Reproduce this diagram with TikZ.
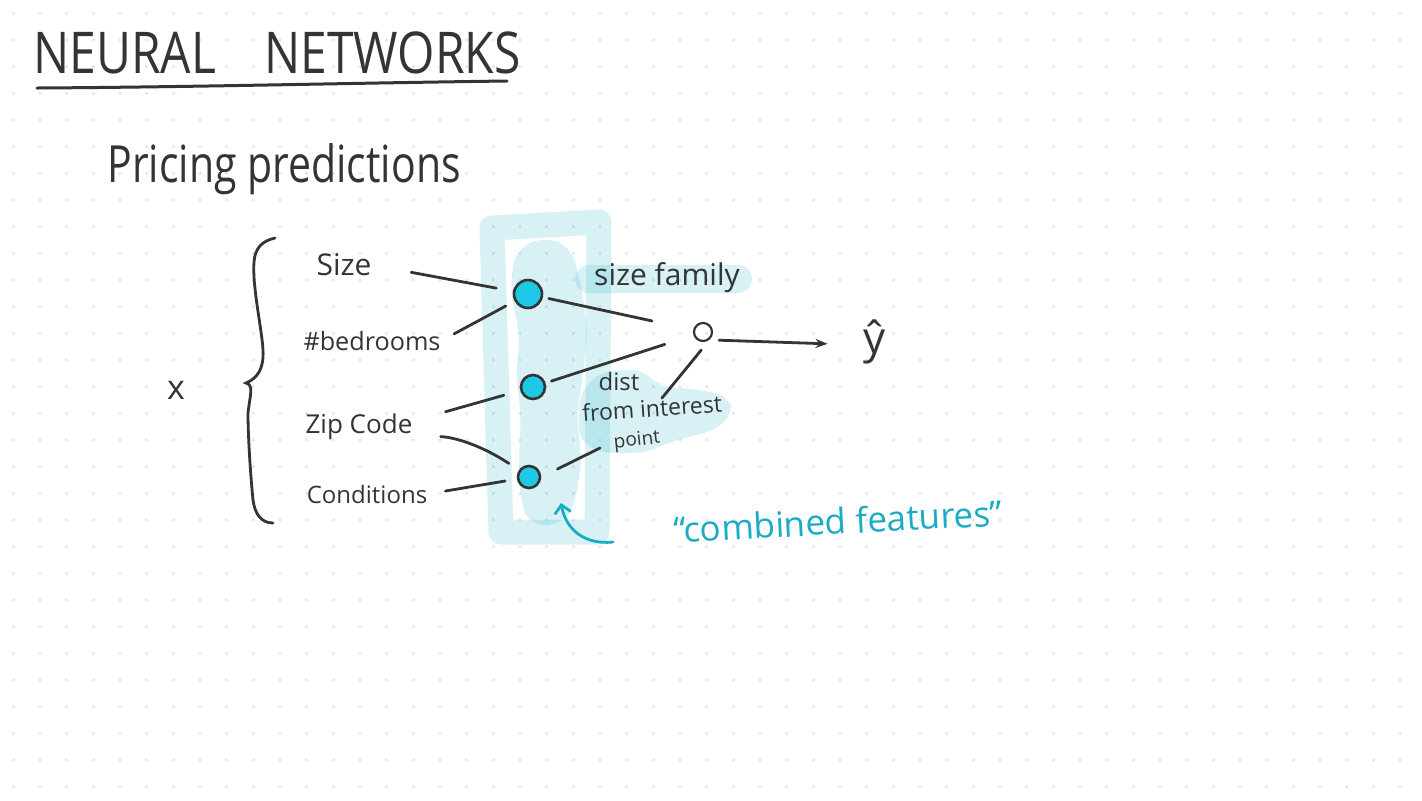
\documentclass[tikz,border=0pt]{standalone}
\usepackage{fontspec}
\setmainfont{Open Sans}
\usetikzlibrary{arrows.meta,calc}
\definecolor{ink}{RGB}{52,52,52}
\definecolor{dotc}{RGB}{226,226,226}
\definecolor{hl}{RGB}{70,190,210}
\definecolor{nodecyan}{RGB}{30,200,230}
\definecolor{tealink}{RGB}{26,172,196}
\begin{document}
\begin{tikzpicture}[x=0.5pt,y=-0.5pt,
  wire/.style={draw=ink,line width=1.4pt,line cap=round},
  lbl/.style={text=ink,inner sep=0pt},
  hid/.style={circle,draw=ink,line width=1.3pt,fill=nodecyan,inner sep=0pt},
  hlfill/.style={fill=hl,fill opacity=0.21,draw=none},
  hlstroke/.style={draw=hl,draw opacity=0.21,line join=round}
]
\useasboundingbox (0,0) rectangle (1422,800);
\fill[white] (0,0) rectangle (1422,800);
% dot grid
\foreach \i in {0,...,52}{\foreach \j in {0,...,29}{
  \fill[dotc] ({13.33+26.667*\i},{13.33+26.667*\j}) circle (1.6);}}

% highlights
\draw[hlstroke,line width=12.5pt] (492,228) -- (599,222) -- (597,532) -- (501,532) -- cycle;
\fill[hlfill,rounded corners=8pt] (515,250) -- (545,236) -- (572,248) -- (582,290) -- (588,335)
  -- (582,380) -- (576,420) -- (582,455) -- (576,500) -- (565,524) -- (530,526) -- (520,500)
  -- (519,455) -- (521,415) -- (516,375) -- (520,335) -- (510,290) -- cycle;
\fill[hlfill,rounded corners=7pt] (575,265) rectangle (752,293);
\fill[hlfill,rounded corners=6pt] (580,393) -- (600,372) -- (640,369) -- (660,386) -- (700,390)
  -- (728,396) -- (733,414) -- (715,430) -- (670,442) -- (645,453) -- (600,453) -- (578,438) -- cycle;

% title
\node[lbl,font=\fontsize{24}{24}\selectfont,anchor=base west] (title) at (33,73)
  {\scalebox{1}[1.2]{NEURAL\hspace{24pt}NETWORKS}};
\draw[ink,line width=1.5pt,line cap=round] (37,88) .. controls (200,87) and (350,83) .. (507,81);
\node[lbl,font=\fontsize{20.5}{20}\selectfont,anchor=base west] (sub) at (107,182)
  {\scalebox{1}[1.25]{Pricing predictions}};

% x and brace
\node[lbl,font=\fontsize{17}{17}\selectfont] (xvar) at (176,390) {x};
\draw[ink,line width=1.4pt,line cap=round] (275,238) .. controls (262,241) and (255,248) .. (254,262)
  .. controls (252,285) and (262,330) .. (263,350) .. controls (264,368) and (258,378) .. (246,383)
  .. controls (254,385) and (250,395) .. (248,413) .. controls (248,440) and (251,480) .. (253,500)
  .. controls (255,515) and (262,523) .. (273,523);

% inputs
\node[lbl,font=\fontsize{15}{15}\selectfont] (size) at (344,265) {Size};
\node[lbl,font=\fontsize{12.6}{12}\selectfont] (bed) at (372,341) {\#bedrooms};
\node[lbl,font=\fontsize{13}{13}\selectfont] (zip) at (359,427) {Zip Code};
\node[lbl,font=\fontsize{12}{12}\selectfont] (cond) at (367,494) {Conditions};

% hidden and output nodes
\node[hid,minimum size=14pt] (h1) at (528,294) {};
\node[hid,minimum size=12pt] (h2) at (533,387) {};
\node[hid,minimum size=11pt] (h3) at (529,477) {};
\node[circle,draw=ink,line width=1.1pt,minimum size=9pt,inner sep=0pt] (out) at (703,332) {};
\node[lbl,font=\fontsize{22}{22}\selectfont] (yhat) at (875,342) {ŷ};

% annotations
\node[lbl,font=\fontsize{15}{15}\selectfont] (sf) at (667,278) {size family};
\node[lbl,font=\fontsize{12}{12}\selectfont] (dist) at (619,381) {dist};
\node[lbl,font=\fontsize{11.5}{11}\selectfont,rotate=4] (from) at (652,408) {from interest};
\node[lbl,font=\fontsize{9.5}{9}\selectfont,rotate=6] (point) at (637,441) {point};
\node[text=tealink,inner sep=0pt,font=\fontsize{17.5}{17}\selectfont,rotate=3] (comb) at (838,521)
  {“combined features”};

% wires
\draw[wire,shorten <=20pt,shorten >=8.5pt] (size.east) -- (h1);
\draw[wire,shorten <=7.5pt,shorten >=5pt] (bed.east) -- (h1);
\draw[wire,shorten <=17pt,shorten >=8.5pt] ([yshift=3pt]zip.east) -- (h2);
\draw[wire,shorten <=14pt,shorten >=6pt] ([yshift=-4pt]zip.east) to[bend left=15] (h3);
\draw[wire,shorten <=9pt,shorten >=6pt] (cond.east) -- (h3);
\draw[wire,shorten <=3pt,shorten >=21pt] (h1) -- (out);
\draw[wire,shorten <=3pt,shorten >=15pt] (h2) -- (out);
\coordinate (g1) at (600,448);
\coordinate (g2) at (662,398);
\draw[wire,shorten <=9pt] (h3.east) -- (g1);
\draw[wire,shorten >=7pt] (g2) -- (out.south east);
\draw[wire,-{Stealth[length=6pt,width=4.5pt]},shorten <=3pt,shorten >=18pt]
  ([yshift=-4pt]out.east) -- ([yshift=-1.5pt]yhat.west);

% teal arrow
\coordinate (ctail) at (613,542);
\coordinate (chead) at (561,503);
\draw[tealink,line width=1.4pt,line cap=round,-{Straight Barb[length=4pt,width=8pt]}]
  (ctail) .. controls (585,545) and (566,530) .. (chead);
\end{tikzpicture}
\end{document}
